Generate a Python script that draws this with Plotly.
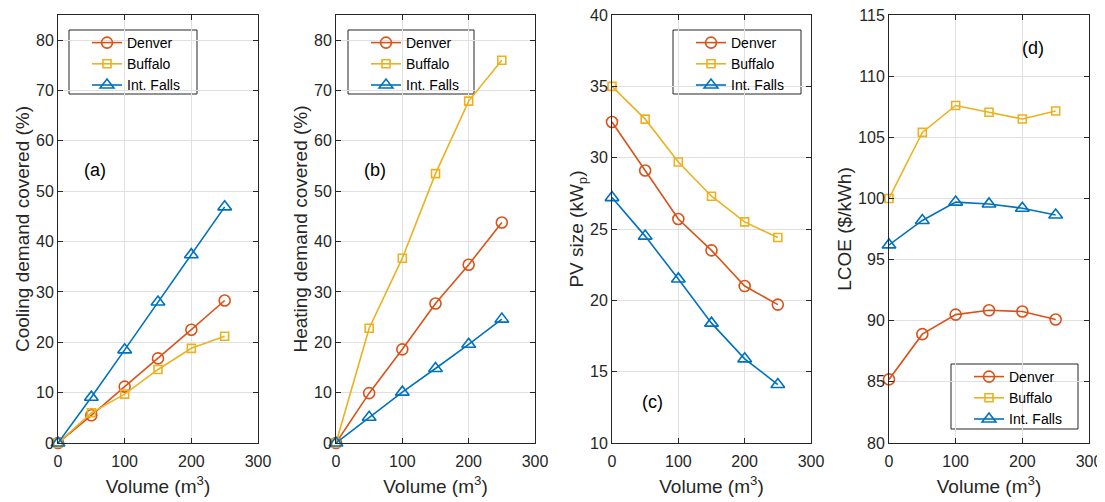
import plotly.graph_objects as go

volume = [0, 50, 100, 150, 200, 250]
cities = ["Denver", "Buffalo", "Int. Falls"]

cooling_denver = [0, 5.5, 11.2, 16.8, 22.5, 28.3]
cooling_buffalo = [0, 6.0, 9.7, 14.6, 18.8, 21.2]
cooling_intfalls = [0, 9.1, 18.5, 28.0, 37.4, 46.9]

heating_denver = [0, 9.9, 18.6, 27.7, 35.4, 43.8]
heating_buffalo = [0, 22.8, 36.7, 53.5, 67.9, 76.0]
heating_intfalls = [0, 5.1, 10.1, 14.8, 19.6, 24.6]

pv_denver = [32.5, 29.1, 25.7, 23.5, 21.0, 19.7]
pv_buffalo = [35.0, 32.7, 29.7, 27.3, 25.5, 24.4]
pv_intfalls = [27.2, 24.5, 21.5, 18.4, 15.9, 14.1]

lcoe_denver = [85.2, 88.9, 90.5, 90.85, 90.75, 90.1]
lcoe_buffalo = [100.0, 105.4, 107.6, 107.05, 106.5, 107.15]
lcoe_intfalls = [96.2, 98.2, 99.7, 99.55, 99.2, 98.65]

panel_labels = ["(a)", "(b)", "(c)", "(d)"]
y_titles = ["Cooling demand covered (%)", "Heating demand covered (%)",
            "PV size (kW<sub>p</sub>)", "LCOE ($/kWh)"]
x_title = "Volume (m<sup>3</sup>)"
x_ticks = [0, 100, 200, 300]
y_ranges = [[0, 85], [0, 85], [10, 40], [80, 115]]
y_tick_sets = [list(range(0, 90, 10)), list(range(0, 90, 10)),
               list(range(10, 45, 5)), list(range(80, 120, 5))]

panels = [
    [cooling_denver, cooling_buffalo, cooling_intfalls],
    [heating_denver, heating_buffalo, heating_intfalls],
    [pv_denver, pv_buffalo, pv_intfalls],
    [lcoe_denver, lcoe_buffalo, lcoe_intfalls],
]

colors = ["#D95319", "#EDB120", "#0072BD"]
symbols = ["circle-open", "square-open", "triangle-up-open"]
msizes = [11, 8, 12]

# page body has an 8px default margin: the figure starts at (8, 8) in the window
OFF = 8
W, H = 1105 - OFF, 502 - OFF


def fx(px):
    return (px - OFF) / W


def fy(py):
    return 1 - (py - OFF) / H


px_x = [(58, 258), (336, 535), (612, 811), (889, 1089)]
py_top, py_bot = 15, 443
ydom = [fy(py_bot), fy(py_top)]

fig = go.Figure()
axis_color = "#262626"
grid_color = "#e0e0e0"
font_family = "Liberation Sans, Arial, sans-serif"

legend_boxes = [(69, 30, 197, 94), (348, 30, 474, 94), (673, 30, 801, 94), (951, 364, 1078, 429)]

for i, series in enumerate(panels):
    xa = "x" if i == 0 else f"x{i+1}"
    ya = "y" if i == 0 else f"y{i+1}"
    lg = "legend" if i == 0 else f"legend{i+1}"
    for j, vals in enumerate(series):
        fig.add_trace(go.Scatter(
            x=volume, y=vals, name=cities[j], mode="lines+markers",
            xaxis=xa, yaxis=ya, legend=lg, cliponaxis=False,
            line=dict(color=colors[j], width=1.6),
            marker=dict(symbol=symbols[j], size=msizes[j], color=colors[j],
                        line=dict(width=1.6, color=colors[j])),
        ))
    xk = "xaxis" if i == 0 else f"xaxis{i+1}"
    yk = "yaxis" if i == 0 else f"yaxis{i+1}"
    x0, x1 = px_x[i]
    common = dict(showline=True, linecolor=axis_color, linewidth=1, mirror="ticks",
                  ticks="inside", ticklen=5, tickcolor=axis_color, automargin=False,
                  ticklabeloverflow="allow",
                  showgrid=True, gridcolor=grid_color, gridwidth=1, zeroline=False,
                  tickfont=dict(family=font_family, size=16, color=axis_color))
    fig.update_layout({
        xk: dict(domain=[fx(x0), fx(x1)], anchor=ya, range=[0, 300],
                 tickvals=x_ticks, ticklabelstandoff=4,
                 title=dict(text=x_title, standoff=10,
                            font=dict(family=font_family, size=19, color=axis_color)),
                 **common),
        yk: dict(domain=ydom, anchor=xa, range=y_ranges[i], tickvals=y_tick_sets[i],
                 ticklabelstandoff=0,
                 title=dict(text=y_titles[i], standoff=1,
                            font=dict(family=font_family, size=19, color=axis_color)),
                 **common),
    })
    bx0, by0, bx1, by1 = legend_boxes[i]
    fig.add_shape(type="rect", xref="paper", yref="paper",
                  x0=fx(bx0), x1=fx(bx1), y0=fy(by1), y1=fy(by0),
                  line=dict(color="#262626", width=1), fillcolor="white", layer="between")
    fig.update_layout({
        lg: dict(x=fx(bx0 + 18), y=fy(by0 - 3), xanchor="left", yanchor="top",
                 bgcolor="rgba(0,0,0,0)", borderwidth=0,
                 font=dict(family=font_family, size=14, color="#000000"),
                 tracegroupgap=0, traceorder="normal")
    })

ann_pos = [(95, 170), (375, 170), (652, 402), (1033, 48)]
for i, lab in enumerate(panel_labels):
    ax, ay = ann_pos[i]
    fig.add_annotation(x=fx(ax), y=fy(ay), xref="paper", yref="paper",
                       xanchor="center", yanchor="middle",
                       text=lab, showarrow=False,
                       font=dict(family=font_family, size=18, color="#000000"))

fig.update_layout(width=W, height=H, margin=dict(l=0, r=0, t=0, b=0),
                  paper_bgcolor="white", plot_bgcolor="white", showlegend=True)

fig.write_html("out.html")
